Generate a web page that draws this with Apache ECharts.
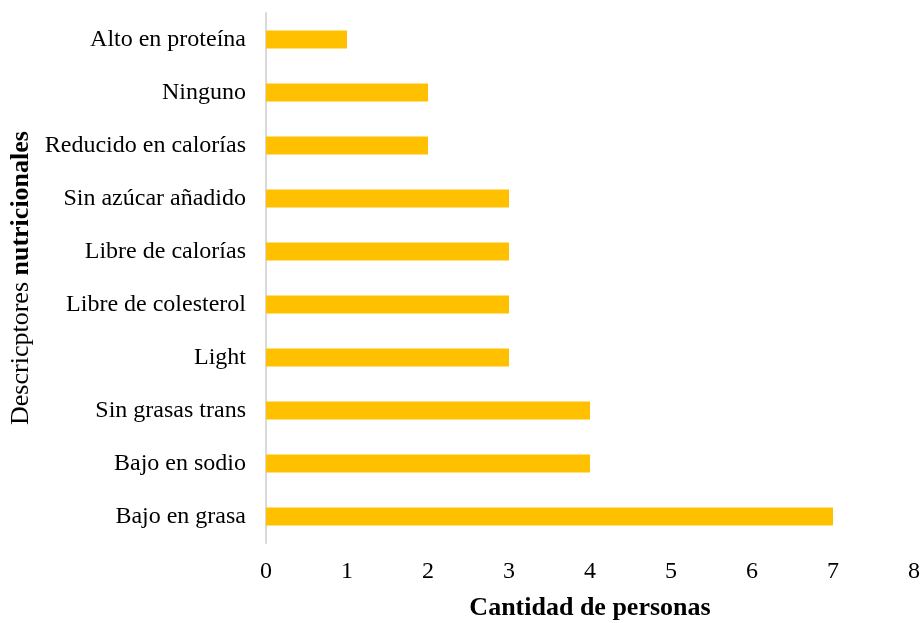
<!DOCTYPE html>
<html><head><meta charset="utf-8">
<script src="https://cdn.jsdelivr.net/npm/echarts@6/dist/echarts.min.js"></script>
<style>html,body{margin:0;padding:0;background:#fff}#c{width:924px;height:623px}</style>
</head><body><div id="c"></div>
<script>
const categories = ["Bajo en grasa","Bajo en sodio","Sin grasas trans","Light","Libre de colesterol","Libre de calorías","Sin azúcar añadido","Reducido en calorías","Ninguno","Alto en proteína"];
const values = [7,4,4,3,3,3,3,2,2,1];
const xTicks = [0,1,2,3,4,5,6,7,8];
const font = "'Liberation Serif', 'Times New Roman', serif";
const chart = echarts.init(document.getElementById('c'));
chart.setOption({
  animation:false,
  grid:{left:266,right:10,top:13,bottom:80,containLabel:false,outerBoundsMode:'none'},
  xAxis:{type:'value',min:xTicks[0],max:xTicks[xTicks.length-1],interval:1,
    axisLine:{show:false},axisTick:{show:false},splitLine:{show:false},
    axisLabel:{color:'#000',fontFamily:font,fontSize:24,margin:17},
    name:'Cantidad de personas',nameLocation:'middle',nameGap:65,
    nameTextStyle:{color:'#000',fontFamily:font,fontSize:26,fontWeight:'bold',verticalAlign:'middle'}},
  yAxis:{type:'category',data:categories,
    axisLine:{show:true,lineStyle:{color:'#d9d9d9',width:2}},axisTick:{show:false},
    axisLabel:{color:'#000',fontFamily:font,fontSize:24,margin:20},
    name:'{a|Descricptores }{b|nutricionales}',nameLocation:'middle',nameGap:230,nameRotate:90,
    nameTextStyle:{rich:{a:{color:'#000',fontFamily:font,fontSize:26},b:{color:'#000',fontFamily:font,fontSize:26,fontWeight:'bold'}}}},
  series:[{type:'bar',data:values,barWidth:18,itemStyle:{color:'#FFC000'}}]
});
</script></body></html>
